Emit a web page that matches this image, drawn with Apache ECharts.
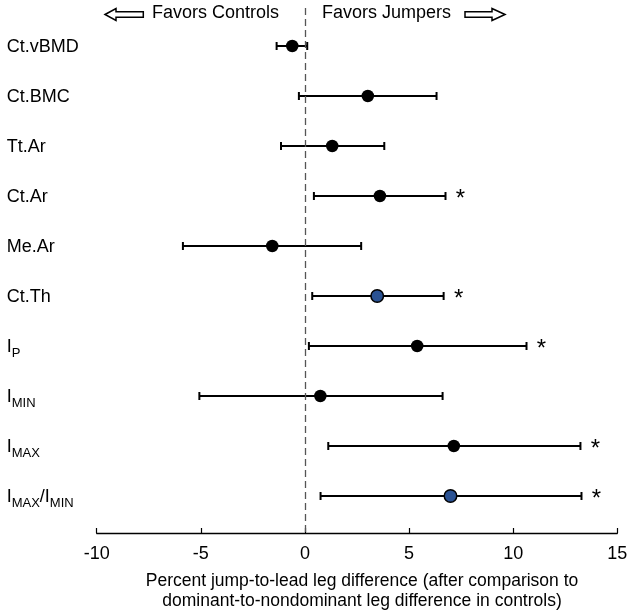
<!DOCTYPE html>
<html>
<head>
<meta charset="utf-8">
<script src="https://cdn.jsdelivr.net/npm/echarts@6/dist/echarts.min.js"></script>
<style>html,body{margin:0;padding:0;background:#fff}#c{width:633px;height:613px}</style>
</head>
<body>
<div id="c"></div>
<script>
// Data
const labels = ['Ct.vBMD', 'Ct.BMC', 'Tt.Ar', 'Ct.Ar', 'Me.Ar', 'Ct.Th', 'I_P', 'I_MIN', 'I_MAX', 'I_MAX/I_MIN'];
const means  = [-0.61, 3.02, 1.31, 3.6, -1.57, 3.47, 5.39, 0.74, 7.15, 6.99];
const lowers = [-1.36, -0.29, -1.15, 0.43, -5.86, 0.35, 0.19, -5.07, 1.12, 0.75];
const uppers = [0.11, 6.32, 3.81, 6.75, 2.7, 6.66, 10.64, 6.61, 13.23, 13.28];
const significant = [false, false, false, true, false, true, true, false, true, true];
const blueMarker = [false, false, false, false, false, true, false, false, false, true];
const xTicks = [-10, -5, 0, 5, 10, 15];

const FONT = 'Liberation Sans, Arial, sans-serif';
const chart = echarts.init(document.getElementById('c'), null, {renderer: 'canvas'});

function richLabel(name) {
  const map = {
    'I_P': '{m|I}{s|P}',
    'I_MIN': '{m|I}{s|MIN}',
    'I_MAX': '{m|I}{s|MAX}',
    'I_MAX/I_MIN': '{m|I}{s|MAX}{m|/I}{s|MIN}'
  };
  return map[name] || '{m|' + name + '}';
}

const barData = labels.map((n, i) => [lowers[i], uppers[i], i, significant[i] ? 1 : 0]);
const pointData = labels.map((n, i) => ({
  value: [means[i], i],
  itemStyle: {color: blueMarker[i] ? '#2A5293' : '#000', borderColor: '#000', borderWidth: blueMarker[i] ? 1.5 : 0, opacity: 1}
}));

const option = {
  backgroundColor: '#fff',
  animation: false,
  grid: {left: 96.7, right: 15.7, top: 8, bottom: 80, containLabel: false, outerBoundsMode: 'none'},
  xAxis: {
    type: 'value', min: -10, max: 15, interval: 5,
    axisLine: {show: true, onZero: false, lineStyle: {color: '#000', width: 1.3}},
    axisTick: {show: true, inside: true, length: 5, lineStyle: {color: '#000', width: 1.2}},
    splitLine: {show: false},
    axisLabel: {color: '#000', fontSize: 18, fontFamily: FONT, margin: 12,
      customValues: xTicks},
    name: 'Percent jump-to-lead leg difference (after comparison to\ndominant-to-nondominant leg difference in controls)',
    nameLocation: 'middle', nameGap: 38,
    nameTextStyle: {color: '#000', fontSize: 17.5, fontFamily: FONT, lineHeight: 20, align: 'center', verticalAlign: 'top', padding: [0, 0, 0, 10]}
  },
  yAxis: {
    type: 'value', inverse: true, min: -0.76, max: 9.74,
    axisLine: {show: false}, axisTick: {show: false}, splitLine: {show: false},
    axisLabel: {
      show: true, customValues: labels.map((n, i) => i), align: 'left', margin: 90,
      formatter: v => richLabel(labels[Math.round(v)]),
      rich: {
        m: {fontSize: 18, fontFamily: FONT, color: '#000', verticalAlign: 'bottom', lineHeight: 20},
        s: {fontSize: 13, fontFamily: FONT, color: '#000', verticalAlign: 'bottom', lineHeight: 14, padding: [0, 0, -4, 0]}
      }
    }
  },
  graphic: [
    {type: 'polygon', shape: {points: [[105, 14.5], [116, 8.5], [116, 11.7], [143.3, 11.7], [143.3, 17.3], [116, 17.3], [116, 20.5]]},
     style: {fill: '#fff', stroke: '#000', lineWidth: 1.5}},
    {type: 'text', left: 152, top: 4, style: {text: 'Favors Controls', fontSize: 18, fontFamily: FONT, fill: '#000'}},
    {type: 'text', left: 322, top: 4, style: {text: 'Favors Jumpers', fontSize: 18, fontFamily: FONT, fill: '#000'}},
    {type: 'polygon', shape: {points: [[505, 14.5], [492, 8.5], [492, 11.7], [465, 11.7], [465, 17.3], [492, 17.3], [492, 20.5]]},
     style: {fill: '#fff', stroke: '#000', lineWidth: 1.5}}
  ],
  series: [
    {
      type: 'custom',
      data: barData,
      encode: {x: [0, 1], y: 2},
      renderItem: function (params, api) {
        const lo = api.coord([api.value(0), api.value(2)]);
        const hi = api.coord([api.value(1), api.value(2)]);
        const h = 4;
        const children = [
          {type: 'line', shape: {x1: lo[0], y1: lo[1], x2: hi[0], y2: hi[1]}, style: {stroke: '#000', lineWidth: 2}},
          {type: 'line', shape: {x1: lo[0], y1: lo[1] - h, x2: lo[0], y2: lo[1] + h}, style: {stroke: '#000', lineWidth: 2}},
          {type: 'line', shape: {x1: hi[0], y1: hi[1] - h, x2: hi[0], y2: hi[1] + h}, style: {stroke: '#000', lineWidth: 2}}
        ];
        if (api.value(3) === 1) {
          children.push({type: 'text', x: hi[0] + 15, y: hi[1] + 3,
            style: {text: '*', fontSize: 24, fontFamily: FONT, fill: '#000', align: 'center', verticalAlign: 'middle'}});
        }
        return {type: 'group', children: children};
      },
      markLine: {
        silent: true, symbol: 'none', label: {show: false},
        lineStyle: {color: '#555', type: [7, 4], width: 1.3},
        data: [{xAxis: 0}]
      },
      z: 2
    },
    {
      type: 'scatter',
      data: pointData,
      symbol: 'circle',
      symbolSize: 12.5,
      itemStyle: {opacity: 1},
      z: 3
    }
  ]
};
chart.setOption(option);
</script>
</body>
</html>
